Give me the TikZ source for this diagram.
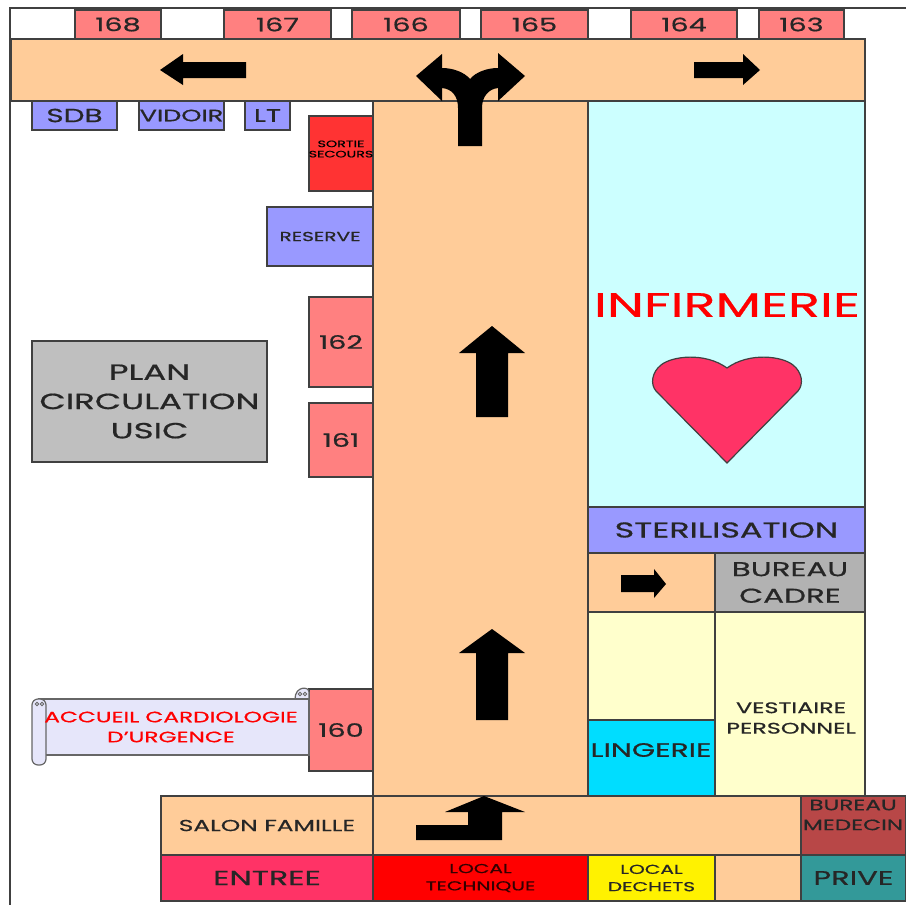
\documentclass[tikz,border=0pt]{standalone}
\usepackage{fontspec}
\setmainfont[FakeStretch=1.55,FakeBold=0.7]{Poppins}
\definecolor{couloir}{HTML}{FFCC99}
\definecolor{chambre}{HTML}{FF8080}
\definecolor{annexe}{HTML}{9999FF}
\definecolor{soin}{HTML}{CCFFFF}
\definecolor{creme}{HTML}{FFFFCC}
\definecolor{coeur}{HTML}{FF3366}
\definecolor{linge}{HTML}{00DDFF}
\definecolor{medecin}{HTML}{B84747}
\definecolor{prive}{HTML}{339999}
\definecolor{parchemin}{HTML}{E6E6FA}
\tikzset{
	piece/.style={draw=black!75,line width=1.2pt},
	lab/.style={inner sep=0pt,align=center,text=black!85,font=\fontsize{#1}{\fpeval{#1*1.33}}\selectfont},
	lab/.default=20,
	fleche/.style={fill=black,draw=none}
}
\begin{document}
\begin{tikzpicture}[x=1pt,y=-1pt]
	\useasboundingbox (0,0) rectangle (906,905);
	\draw[black!75,line width=1.6pt] (906,8)--(10,8)--(10,905);
	% chambres du haut
	\foreach \num/\xa/\xb in {168/75/161,167/224/331,166/352/460,165/481/588,164/631/737,163/759/844}
		\draw[piece,fill=chambre] (\xa,10) rectangle node[lab=18.5](c\num){\num} (\xb,39);
	% couloirs
	\draw[piece,fill=couloir] (373,101) rectangle (588,796);
	\draw[piece,fill=couloir] (11,39) rectangle (865,101);
	\draw[piece,fill=couloir] (373,796) rectangle (801,855);
	\draw[piece,fill=couloir] (588,553) rectangle (715,612);
	\draw[piece,fill=couloir] (715,855) rectangle (801,901);
	\draw[piece,fill=couloir] (161,796) rectangle node[lab=16](salon){SALON FAMILLE} (373,855);
	% annexes
	\foreach \nom/\xa/\xb/\ta in {SDB/32/117/19,VIDOIR/139/224/16.5,LT/245/290/18}
		\draw[piece,fill=annexe] (\xa,101) rectangle node[lab=\ta](a\nom){\nom} (\xb,130);
	\draw[piece,fill=red!80] (309,116) rectangle (373,191);
	\node[lab=9.2,text=black] (sortie) at (341,149) {SORTIE\\[-2pt]SECOURS};
	\draw[piece,fill=annexe] (267,207) rectangle node[lab=13](reserve){RESERVE} (373,266);
	\foreach \num/\ya/\yb in {162/297/387,161/403/477,160/689/771}
		\draw[piece,fill=chambre] (309,\ya) rectangle node[lab=18.5](c\num){\num} (373,\yb);
	% plan
	\draw[piece,fill=black!25] (32,341) rectangle node[lab=22](plan){PLAN\\CIRCULATION\\USIC} (267,462);
	% cote droit
	\draw[piece,fill=soin] (588,101) rectangle (865,507);
	\node[lab=34,text=red] (infirmerie) at (727,305) {INFIRMERIE};
	\draw[piece,fill=coeur] (727,463)--(656,391) .. controls (650,384) and (652,372) .. (661,365)
		.. controls (672,356) and (705,352) .. (727,368) .. controls (749,352) and (782,356) .. (793,365)
		.. controls (802,372) and (804,384) .. (798,391) -- cycle;
	\draw[piece,fill=annexe] (588,507) rectangle node[lab=21.5](steril){STERILISATION} (865,553);
	\draw[piece,fill=black!30] (715,553) rectangle node[lab=20](cadre){BUREAU\\CADRE} (865,612);
	\draw[piece,fill=creme] (588,612) rectangle (715,720);
	\draw[piece,fill=linge] (588,720) rectangle (715,796);
	\node[lab=19.3] (lingerie) at (651,750) {LINGERIE};
	\draw[piece,fill=creme] (715,612) rectangle (865,796);
	\node[lab=15.4] (vestiaire) at (791,718) {VESTIAIRE\\PERSONNEL};
	% bas
	\draw[piece,fill=medecin] (801,796) rectangle (906,855);
	\node[lab=15] (medecin) at (853,815) {BUREAU\\MEDECIN};
	\draw[piece,fill=coeur] (161,855) rectangle node[lab=20.5](entree){ENTREE} (373,901);
	\draw[piece,fill=red] (373,855) rectangle node[lab=13,text=black!80!red](technique){LOCAL\\TECHNIQUE} (588,901);
	\draw[piece,fill=yellow] (588,855) rectangle node[lab=13](dechets){LOCAL\\DECHETS} (715,901);
	\draw[piece,fill=prive] (801,855) rectangle node[lab=19.7](prive){PRIVE} (906,901);
	% parchemin
	\draw[piece,draw=black!60,fill=parchemin] (295,699) .. controls (295,686) and (309,686) .. (309,692) -- (309,699) -- cycle;
	\draw[piece,draw=black!60,fill=parchemin] (39,699) rectangle (309,755);
	\draw[piece,draw=black!60,fill=parchemin,rounded corners=6pt] (32,699) rectangle (46,765);
	\foreach \xc/\yc in {37/704,42/704,300/694,305/694}
		\draw[black!60,line width=.8pt] (\xc,\yc) circle (1.8pt);
	\node[lab=15,text=red] (accueil) at (171,727) {ACCUEIL CARDIOLOGIE\\D'URGENCE};
	% fleches
	\fill[fleche] (160,70)--(183,54)--(183,62)--(246,62)--(246,78)--(183,78)--(183,85)--cycle;
	\fill[fleche] (760,70)--(743,54)--(743,62)--(694,62)--(694,78)--(743,78)--(743,85)--cycle;
	\fill[fleche] (458,146)--(458,108) .. controls (458,96) and (452,89) .. (442,88)--(442,101)--(416,76)--(442,54)--(442,68)
		.. controls (453,68) and (464,72) .. (470,79) .. controls (476,72) and (487,68) .. (498,68)
		--(498,53)--(525,76)--(498,101)--(498,88) .. controls (489,89) and (482,96) .. (482,108)--(482,146)--cycle;
	\foreach \ya/\yb/\yc in {326/353/417,629/653/720}
		\fill[fleche] (492,\ya)--(525,\yb)--(508,\yb)--(508,\yc)--(476,\yc)--(476,\yb)--(459,\yb)--cycle;
	\fill[fleche] (666,584)--(654,569)--(654,575)--(621,575)--(621,592)--(654,592)--(654,598)--cycle;
	\fill[fleche] (484,796)--(525,812)--(502,812)--(502,840)--(416,840)--(416,825)--(468,825)--(468,812)--(445,812)--cycle;
\end{tikzpicture}
\end{document}
